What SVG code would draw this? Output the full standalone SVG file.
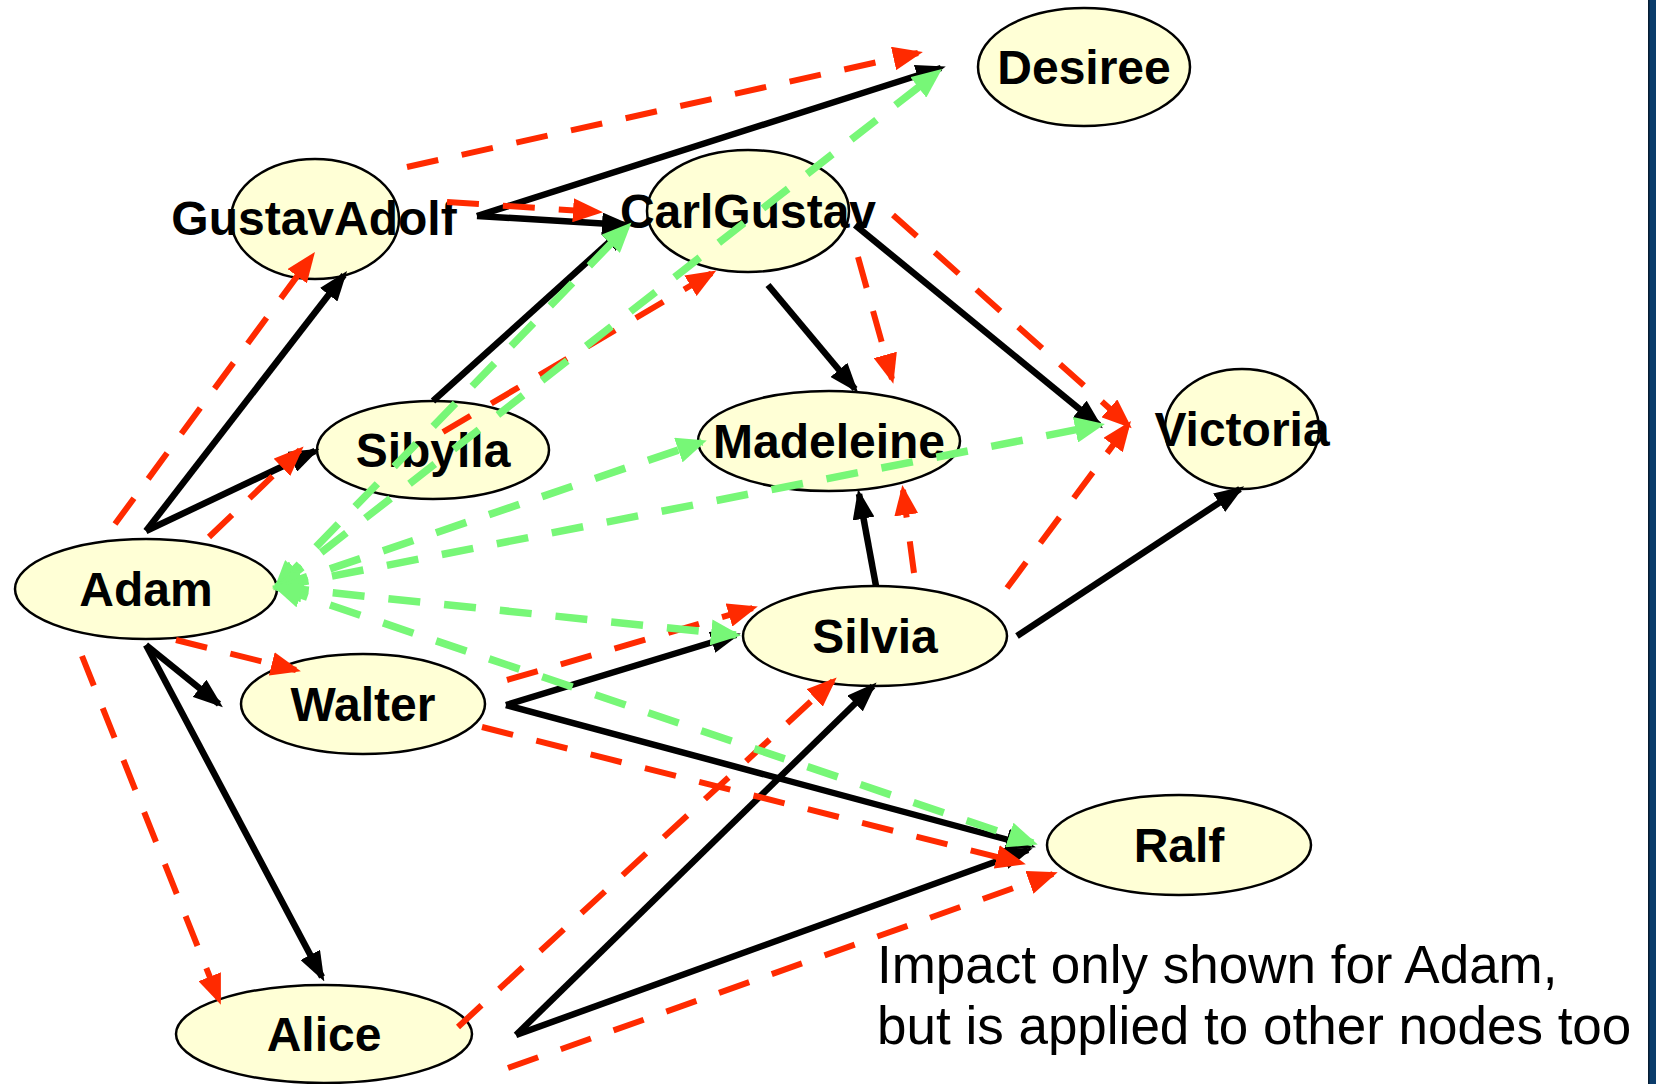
<svg xmlns="http://www.w3.org/2000/svg" width="1656" height="1084" viewBox="0 0 1656 1084">
<style>
.node ellipse{fill:#ffffd6;stroke:#000;stroke-width:2.5}
.node text{font-family:"Liberation Sans",Arial,sans-serif;font-weight:bold;font-size:48px;text-anchor:middle;fill:#000}
.blk{stroke:#000;stroke-width:6.5;fill:none;marker-end:url(#ab)}
.red{stroke:#ff2a00;stroke-width:6;fill:none;stroke-dasharray:32 24;marker-end:url(#ar)}
.grn{stroke:#77f777;stroke-width:7.5;fill:none;stroke-dasharray:32 24;marker-end:url(#ag);marker-start:url(#ag)}
.cap{font-family:"Liberation Sans",Arial,sans-serif;font-size:53px;fill:#000}
</style>
<defs>
<marker id="ab" markerUnits="userSpaceOnUse" viewBox="0 0 30 22" refX="25" refY="11" markerWidth="30" markerHeight="22" orient="auto"><path d="M0,0 L30,11 L0,22 z" fill="#000"/></marker>
<marker id="ar" markerUnits="userSpaceOnUse" viewBox="0 0 30 24" refX="25" refY="12" markerWidth="30" markerHeight="24" orient="auto"><path d="M0,0 L30,12 L0,24 z" fill="#ff2a00"/></marker>
<marker id="ag" markerUnits="userSpaceOnUse" viewBox="0 0 30 26" refX="25" refY="13" markerWidth="30" markerHeight="26" orient="auto-start-reverse"><path d="M0,0 L30,13 L0,26 z" fill="#77f777"/></marker>
</defs>
<rect x="0" y="0" width="1656" height="1084" fill="#fff"/>
<rect x="1649" y="0" width="7" height="1084" fill="#0b3c6b"/>
<rect x="1648" y="0" width="1.5" height="1084" fill="#051c33"/>

<g id="node-desiree" class="node"><ellipse cx="1084" cy="67" rx="106" ry="59"/><text x="1084" y="84">Desiree</text></g>
<g id="node-gustavadolf" class="node"><ellipse cx="315" cy="219" rx="84" ry="60"/><text x="314" y="235">GustavAdolf</text></g>
<g id="node-carlgustav" class="node"><ellipse cx="748" cy="211" rx="101" ry="61"/><text x="748" y="228">CarlGustav</text></g>
<g id="node-sibylla" class="node"><ellipse cx="433" cy="450" rx="116" ry="49"/><text x="433" y="467">Sibylla</text></g>
<g id="node-madeleine" class="node"><ellipse cx="829" cy="441" rx="131" ry="50"/><text x="829" y="458">Madeleine</text></g>
<g id="node-victoria" class="node"><ellipse cx="1242" cy="429" rx="77" ry="60"/><text x="1242" y="446">Victoria</text></g>
<g id="node-adam" class="node"><ellipse cx="146" cy="589" rx="131" ry="50"/><text x="146" y="606">Adam</text></g>
<g id="node-silvia" class="node"><ellipse cx="875" cy="636" rx="132" ry="50"/><text x="875" y="653">Silvia</text></g>
<g id="node-walter" class="node"><ellipse cx="363" cy="704" rx="122" ry="50"/><text x="363" y="721">Walter</text></g>
<g id="node-ralf" class="node"><ellipse cx="1179" cy="845" rx="132" ry="50"/><text x="1179" y="862">Ralf</text></g>
<g id="node-alice" class="node"><ellipse cx="324" cy="1034" rx="148" ry="49"/><text x="324" y="1051">Alice</text></g>

<g id="connectors">
<line class="blk" x1="146" y1="531" x2="344" y2="275"/>
<line class="blk" x1="146" y1="531" x2="315" y2="451"/>
<line class="blk" x1="477" y1="216" x2="941" y2="68"/>
<line class="blk" x1="477" y1="216" x2="627" y2="225"/>
<line class="blk" x1="433" y1="401" x2="627" y2="226"/>
<line class="blk" x1="768" y1="285" x2="855" y2="389"/>
<line class="blk" x1="855" y1="225" x2="1099" y2="425"/>
<line class="blk" x1="876" y1="586" x2="859" y2="494"/>
<line class="blk" x1="1017" y1="636" x2="1240" y2="489"/>
<line class="blk" x1="146" y1="645" x2="219" y2="704"/>
<line class="blk" x1="146" y1="645" x2="322" y2="977"/>
<line class="blk" x1="506" y1="705" x2="736" y2="635"/>
<line class="blk" x1="506" y1="705" x2="1031" y2="846"/>
<line class="blk" x1="516" y1="1035" x2="873" y2="686"/>
<line class="blk" x1="516" y1="1035" x2="1028" y2="850"/>

<line class="red" x1="115" y1="524" x2="312" y2="256"/>
<line class="red" x1="209" y1="537" x2="300" y2="450"/>
<line class="red" x1="407" y1="167" x2="918" y2="53"/>
<line class="red" x1="447" y1="202" x2="598" y2="212"/>
<line class="red" x1="443" y1="432" x2="712" y2="273"/>
<line class="red" x1="858" y1="257" x2="892" y2="379"/>
<line class="red" x1="893" y1="215" x2="1128" y2="425"/>
<line class="red" x1="914" y1="573" x2="903" y2="490"/>
<line class="red" x1="1007" y1="588" x2="1128" y2="425"/>
<line class="red" x1="176" y1="640" x2="296" y2="670"/>
<line class="red" x1="82" y1="656" x2="219" y2="1000"/>
<line class="red" x1="507" y1="680" x2="753" y2="608"/>
<line class="red" x1="482" y1="727" x2="1021" y2="863"/>
<line class="red" x1="458" y1="1027" x2="833" y2="681"/>
<line class="red" x1="508" y1="1068" x2="1053" y2="874"/>

<line class="grn" x1="277" y1="587" x2="628" y2="226"/>
<line class="grn" x1="277" y1="587" x2="938" y2="72"/>
<line class="grn" x1="277" y1="587" x2="702" y2="442"/>
<line class="grn" x1="277" y1="587" x2="1100" y2="425"/>
<line class="grn" x1="277" y1="587" x2="736" y2="635"/>
<line class="grn" x1="277" y1="587" x2="1033" y2="843"/>
</g>

<text class="cap" x="877" y="983">Impact only shown for Adam,</text>
<text class="cap" x="877" y="1044">but is applied to other nodes too</text>
</svg>
